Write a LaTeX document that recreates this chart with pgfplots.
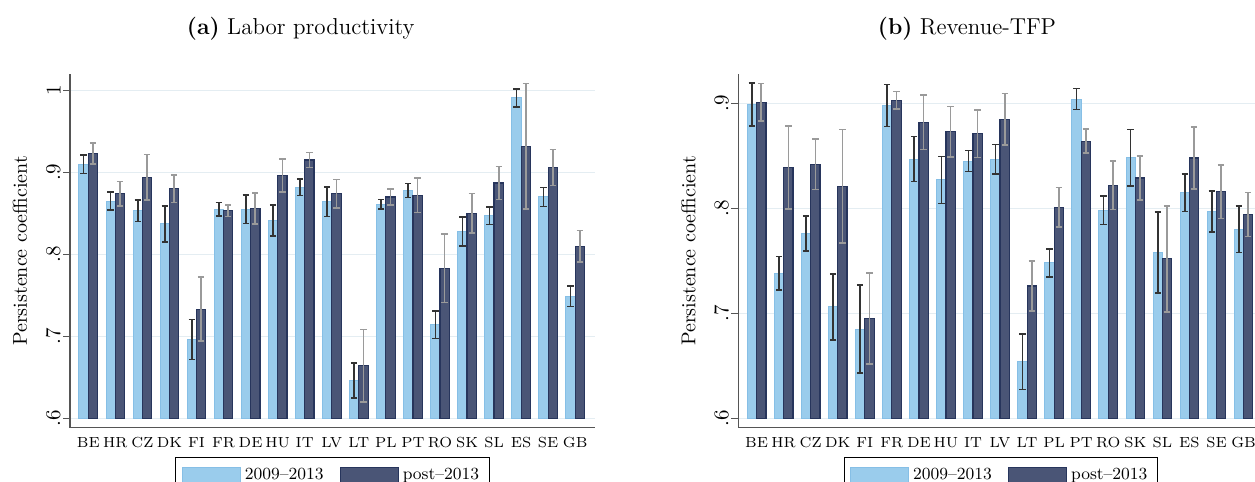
\documentclass[border=0pt]{standalone}
\usepackage{pgfplots}
\pgfplotsset{compat=1.18}
\usepackage{pgfplotstable}

\definecolor{lightbar}{HTML}{9ACCEC}
\definecolor{lightedge}{HTML}{86BFE6}
\definecolor{darkbar}{HTML}{4A5576}
\definecolor{darkedge}{HTML}{27355C}
\definecolor{gridc}{HTML}{E4EDF2}
\definecolor{errdark}{HTML}{333333}
\definecolor{errlight}{HTML}{9A9A9A}
\definecolor{axisc}{HTML}{555555}

% Labor productivity, 2009-2013
\pgfplotstableread{
x y err
0 0.910 0.0115
1 0.865 0.011
2 0.853 0.013
3 0.837 0.022
4 0.696 0.0245
5 0.855 0.008
6 0.855 0.0175
7 0.841 0.019
8 0.882 0.010
9 0.864 0.018
10 0.646 0.0215
11 0.861 0.006
12 0.878 0.0085
13 0.714 0.0165
14 0.828 0.0175
15 0.847 0.0105
16 0.991 0.011
17 0.870 0.0115
18 0.749 0.0125
}\lpA
% Labor productivity, post-2013
\pgfplotstableread{
x y err
0 0.923 0.013
1 0.874 0.015
2 0.894 0.028
3 0.880 0.017
4 0.733 0.039
5 0.853 0.007
6 0.856 0.019
7 0.896 0.020
8 0.915 0.009
9 0.874 0.0175
10 0.664 0.0445
11 0.870 0.010
12 0.872 0.021
13 0.783 0.042
14 0.850 0.024
15 0.887 0.020
16 0.932 0.0765
17 0.906 0.022
18 0.810 0.019
}\lpB
% Revenue-TFP, 2009-2013
\pgfplotstableread{
x y err
0 0.899 0.0205
1 0.738 0.016
2 0.776 0.0165
3 0.706 0.0315
4 0.685 0.042
5 0.898 0.020
6 0.847 0.0215
7 0.827 0.0225
8 0.845 0.010
9 0.847 0.014
10 0.654 0.0265
11 0.748 0.0135
12 0.904 0.010
13 0.798 0.0135
14 0.848 0.027
15 0.758 0.0385
16 0.815 0.018
17 0.797 0.0195
18 0.780 0.022
}\tfpA
% Revenue-TFP, post-2013
\pgfplotstableread{
x y err
0 0.901 0.018
1 0.839 0.0395
2 0.842 0.024
3 0.821 0.054
4 0.695 0.0435
5 0.903 0.0085
6 0.882 0.026
7 0.873 0.024
8 0.871 0.0225
9 0.885 0.0245
10 0.726 0.024
11 0.801 0.019
12 0.864 0.0115
13 0.822 0.023
14 0.829 0.021
15 0.752 0.0505
16 0.848 0.0295
17 0.816 0.0255
18 0.794 0.021
}\tfpB

\pgfplotsset{
  panel/.style={
    scale only axis, width=262.5pt, height=176.85pt, anchor=south west,
    xmin=-0.676, xmax=18.73,
    axis x line*=bottom, axis y line*=left,
    axis line style={draw=axisc, line width=0.6pt},
    xtick={0,...,18},
    xticklabels={BE,HR,CZ,DK,FI,FR,DE,HU,IT,LV,LT,PL,PT,RO,SK,SL,ES,SE,GB},
    x tick style={draw=none},
    xticklabel style={font=\fontsize{7.3}{8.5}\selectfont, inner sep=1pt, anchor=north},
    y tick style={draw=axisc, line width=0.6pt},
    tick align=outside, major tick length=3.5pt,
    ymajorgrids, major grid style={draw=gridc, line width=0.7pt},
    yticklabel style={font=\fontsize{10.5}{12}\selectfont, rotate=90, anchor=south, inner sep=1pt},
    ylabel={Persistence coefficient},
    every axis y label/.style={at={(axis description cs:-0.0952,0.5)}, rotate=90, anchor=center, font=\fontsize{10}{12}\selectfont},
    legend columns=2,
    legend style={at={(0.5,0)}, anchor=north, yshift=-14.8pt, draw=black, line width=0.5pt,
      font=\fontsize{8.5}{10}\selectfont, inner xsep=3pt, inner ysep=3pt,
      /tikz/every even column/.append style={column sep=6pt}},
    legend image code/.code={\draw[#1] (0pt,-3.85pt) rectangle (29pt,3.85pt);},
  },
  lbar/.style={ybar, bar width=0.345, bar shift=0pt, fill=lightbar, draw=lightedge, line width=0.5pt,
    error bars/y dir=both, error bars/y explicit,
    error bars/error bar style={draw=errdark, line width=0.8pt},
    error bars/error mark options={rotate=90, draw=errdark, line width=0.8pt, mark size=1.6pt}},
  dbar/.style={ybar, bar width=0.345, bar shift=0pt, fill=darkbar, draw=darkedge, line width=0.6pt,
    error bars/y dir=both, error bars/y explicit,
    error bars/error bar style={draw=errlight, line width=0.8pt},
    error bars/error mark options={rotate=90, draw=errlight, line width=0.8pt, mark size=1.6pt}},
}

\begin{document}
\begin{tikzpicture}
\useasboundingbox (0,0) rectangle (627.5pt,241pt);
\clip (0,0) rectangle (627.5pt,241pt);

\node[anchor=base, font=\fontsize{11.5}{14}\selectfont] at (150.4pt,223.5pt) {\textbf{(a)} Labor productivity};
\node[anchor=base, font=\fontsize{11.5}{14}\selectfont] at (483.5pt,223.5pt) {\textbf{(b)} Revenue-TFP};

\begin{axis}[panel, at={(35pt,27.15pt)},
  ymin=-0.0115, ymax=0.42,
  ytick={0,0.1,0.2,0.3,0.4}, yticklabels={.6,.7,.8,.9,1}]
\addplot[lbar] table[x expr=\thisrow{x}-0.1725, y expr=\thisrow{y}-0.6, y error=err] {\lpA};
\addplot[dbar] table[x expr=\thisrow{x}+0.1725, y expr=\thisrow{y}-0.6, y error=err] {\lpB};
\legend{2009--2013, post--2013}
\end{axis}

\begin{axis}[panel, at={(369.15pt,27.15pt)},
  ymin=-0.009, ymax=0.328,
  ytick={0,0.1,0.2,0.3}, yticklabels={.6,.7,.8,.9}]
\addplot[lbar] table[x expr=\thisrow{x}-0.1725, y expr=\thisrow{y}-0.6, y error=err] {\tfpA};
\addplot[dbar] table[x expr=\thisrow{x}+0.1725, y expr=\thisrow{y}-0.6, y error=err] {\tfpB};
\legend{2009--2013, post--2013}
\end{axis}
\end{tikzpicture}
\end{document}
